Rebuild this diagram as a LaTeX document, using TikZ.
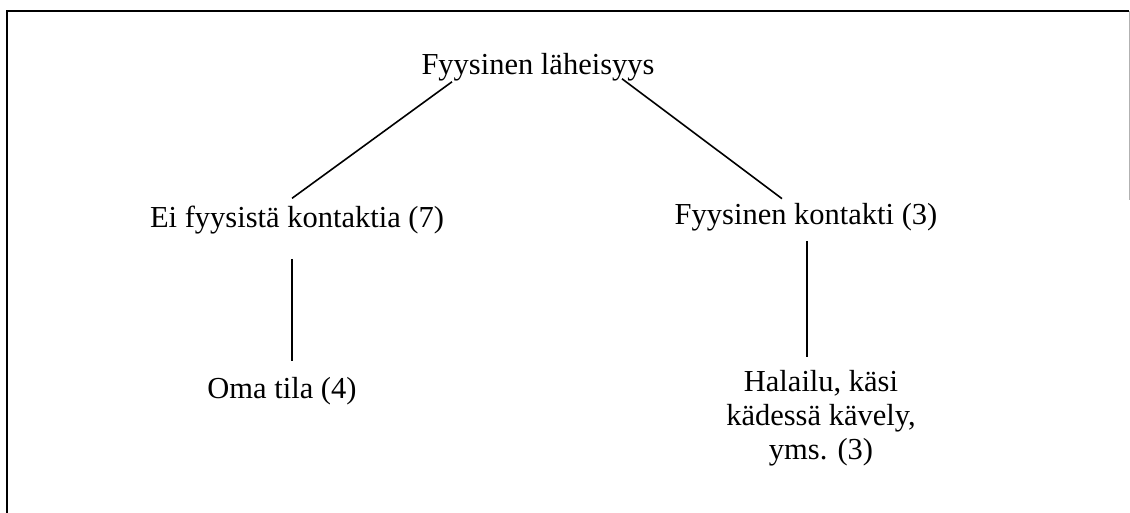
\documentclass[tikz,border=0pt]{standalone}
\usepackage{fontspec}
\setmainfont{Liberation Serif}
\begin{document}
\begin{tikzpicture}[x=1pt,y=-1pt,
  lbl/.style={inner sep=0pt,font=\fontsize{30.5}{34}\selectfont,align=center},
  link/.style={line width=1.6pt}]
 \useasboundingbox (0,0) rectangle (1130,513);
 %frame
 \draw[line width=1.8pt] (7,513) -- (7,11) -- (1129,11);
 \draw[gray!60,line width=1pt] (1129,11) -- (1129,200);
 %top
 \node[lbl,anchor=base] (root) at (538,75) {Fyysinen läheisyys};
 %level 1
 \node[lbl,anchor=base] (eik) at (297,228) {Ei fyysistä kontaktia (7)};
 \node[lbl,anchor=base] (fk) at (806,225) {Fyysinen kontakti (3)};
 %level 2
 \node[lbl,anchor=base] (oma) at (282,398) {Oma tila (4)};
 \node[lbl,anchor=north] (hal) at (821,370) {Halailu, käsi\\kädessä kävely,\\yms. (3)};
 %links
 \draw[link]([xshift=-86pt,yshift=0pt]root.south) -- ([xshift=-5pt,yshift=8pt]eik.north);
 \draw[link]([xshift=84pt,yshift=3pt]root.south) -- ([xshift=-24pt,yshift=5pt]fk.north);
 \draw[link]([xshift=-5pt,yshift=-24pt]eik.south) coordinate (e1) -- ([yshift=16pt]e1 |- oma.north);
 \draw[link]([xshift=1pt,yshift=-9pt]fk.south) coordinate (f1) -- ([yshift=13pt]f1 |- hal.north);
\end{tikzpicture}
\end{document}
